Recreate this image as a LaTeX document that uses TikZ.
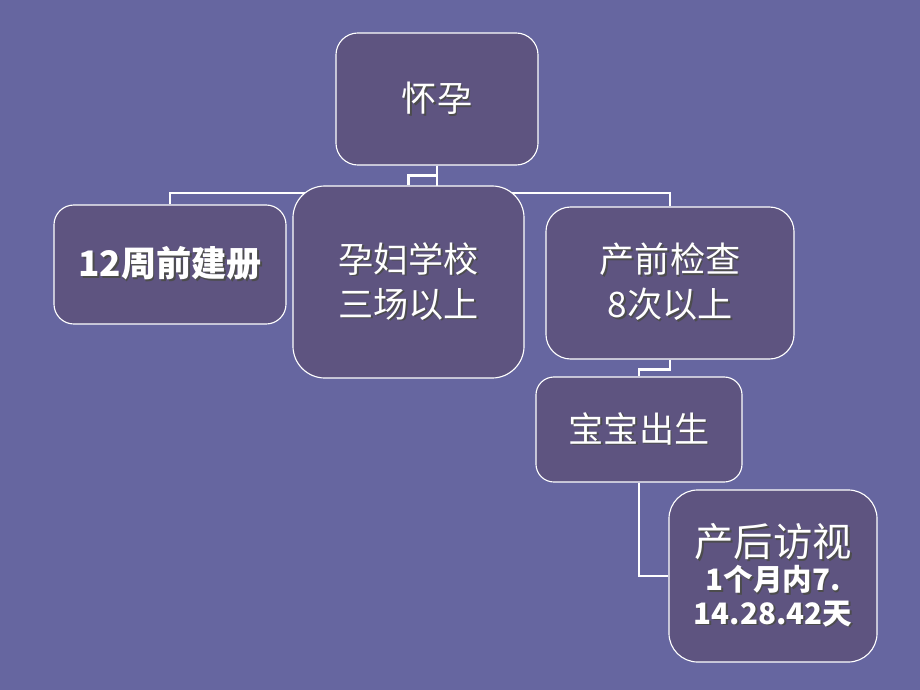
\documentclass[tikz,border=0pt]{standalone}
\usepackage{fontspec}
\usepackage{tikz}
\setmainfont{Noto Sans CJK SC}
\definecolor{bgblue}{RGB}{102, 102, 160}
\definecolor{boxfill}{RGB}{94, 84, 128}
\pgfdeclarelayer{bg}
\pgfdeclarelayer{wires}
\pgfsetlayers{bg,wires,main}
\tikzset{stage/.style = {draw = white, line width = 0.8pt, fill = boxfill, text = white, align = center, inner sep = 0}}
\tikzset{wire/.style = {draw = white, line width = 2pt}}
\newcommand{\shad}[1]{\makebox[0pt][l]{\kern1.3pt\raisebox{-1.3pt}{\color{black!70}#1}}#1}

\begin{document}
\begin{tikzpicture}[x=0.025cm, y=-0.025cm]
      \begin{pgfonlayer}{bg}
        \fill [bgblue] (0, 0) rectangle (920, 690);
      \end{pgfonlayer}
      \useasboundingbox (0, 0) rectangle (920, 690);

      \node [stage, minimum width=5.05cm, minimum height=3.3cm, rounded corners=0.55cm, font=\fontsize{25}{30}\selectfont] (preg) at (437, 99) {\shad{怀孕}};
      \node [stage, minimum width=5.8cm, minimum height=2.975cm, rounded corners=0.5cm, font=\fontsize{25}{30}\selectfont\bfseries] (register) at (170, 264.5) {\shad{12周前建册}};
      \node [stage, minimum width=5.775cm, minimum height=4.8cm, rounded corners=0.8cm, font=\fontsize{25}{32}\selectfont] (school) at (408.5, 282) {\shad{孕妇学校}\\\shad{三场以上}};
      \node [stage, minimum width=6.2cm, minimum height=3.8cm, rounded corners=0.62cm, font=\fontsize{25}{32}\selectfont] (checkup) at (670, 283) {\shad{产前检查}\\\shad{8次以上}};
      \node [stage, minimum width=5.15cm, minimum height=2.625cm, rounded corners=0.45cm, font=\fontsize{25}{30}\selectfont] (birth) at (639, 429.5) {\shad{宝宝出生}};
      \node [stage, minimum width=5.2cm, minimum height=4.3cm, rounded corners=0.72cm, font=\fontsize{21}{24}\selectfont\bfseries] (visit) at (773, 576) {{\fontsize{28}{34}\selectfont\mdseries\shad{产后访视}}\\\shad{1个月内7.}\\\shad{14.28.42天}};

      \coordinate (bus) at (437, 193);
      \begin{pgfonlayer}{wires}
        \draw [wire] (preg.south) -- ++(0, 10) -| (school.north);
        \draw [wire] (preg.south) -- (bus);
        \draw [wire] (register.north) |- (bus) -| (checkup.north);
        \draw [wire] (checkup.south) -- ++(0, 10) -| (birth.north);
        \draw [wire] (birth.south) |- (visit.west);
      \end{pgfonlayer}
    \end{tikzpicture}
\end{document}
